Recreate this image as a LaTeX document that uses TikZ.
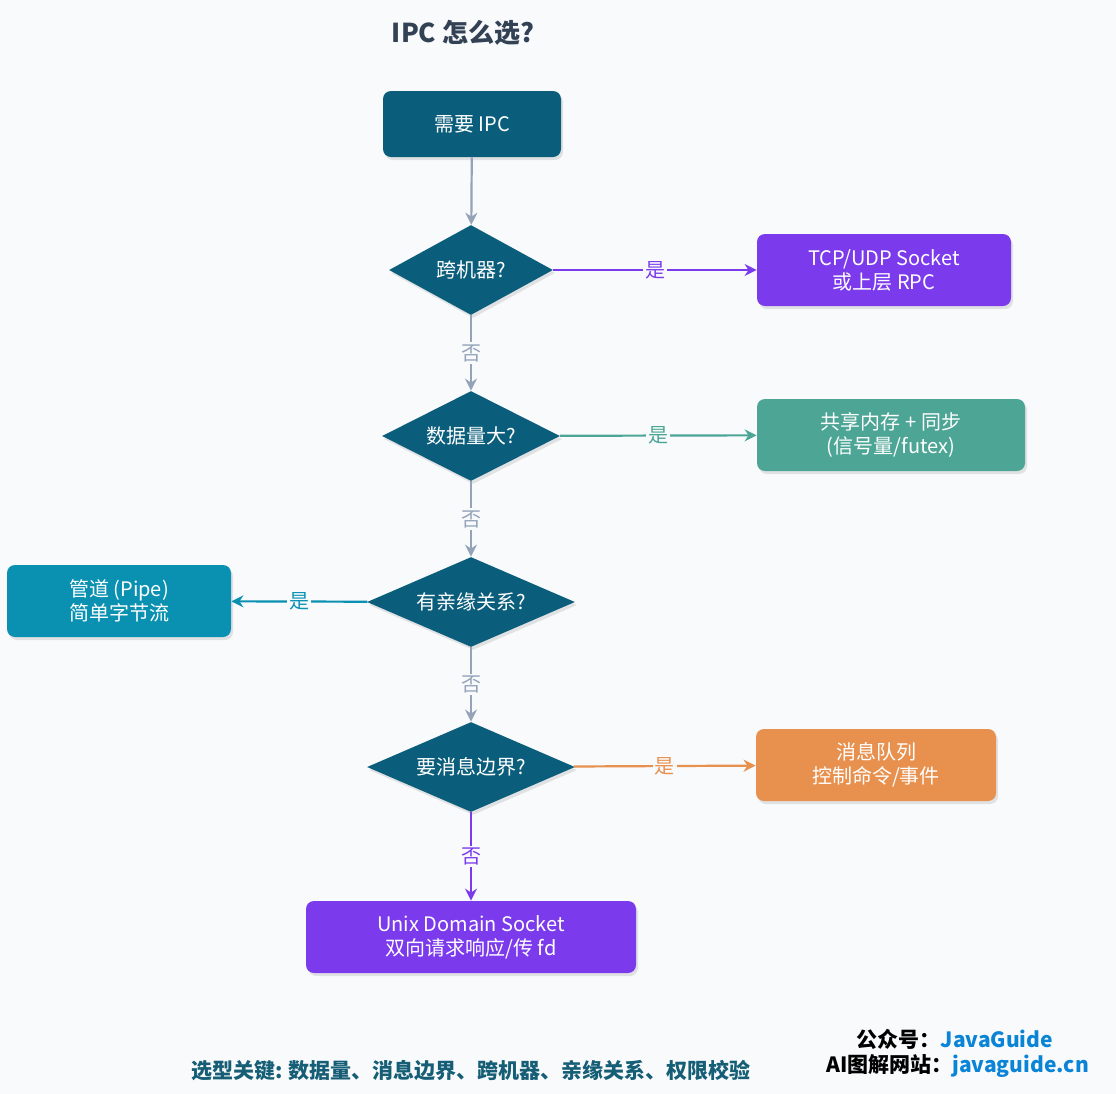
\documentclass[tikz,border=0pt]{standalone}
\usepackage{fontspec}
\setmainfont{Noto Sans CJK SC}
\usetikzlibrary{shapes.geometric,arrows.meta,shadows}
\definecolor{bg}{HTML}{F8FAFC}
\definecolor{dteal}{HTML}{0B5E7B}
\definecolor{purp}{HTML}{7C3AED}
\definecolor{grn}{HTML}{4DA595}
\definecolor{pipe}{HTML}{0A91B1}
\definecolor{orng}{HTML}{E8914F}
\definecolor{edge}{HTML}{94A3B8}
\definecolor{ttl}{HTML}{334155}
\definecolor{keyc}{HTML}{155E75}
\definecolor{blu}{HTML}{0A84D6}
\begin{document}
\begin{tikzpicture}[x=0.5pt,y=-0.5pt,
 box/.style={draw=none,rounded corners=4pt,text=white,font=\fontsize{10}{12}\selectfont,align=center,inner sep=0pt,drop shadow={opacity=0.2,shadow xshift=1pt,shadow yshift=-1.5pt}},
 dia/.style={diamond,fill=dteal,text=white,font=\fontsize{10}{12}\selectfont,inner sep=0pt,aspect=1.8,drop shadow={opacity=0.2,shadow xshift=1pt,shadow yshift=-1.5pt}},
 ar/.style={-{Stealth[length=6pt,width=6pt]},line width=1.1pt,draw=edge},
 lab/.style={fill=bg,font=\fontsize{10}{12}\selectfont,inner sep=1pt}]
\fill[bg] (0,0) rectangle (1116,1094);
\useasboundingbox (0,0) rectangle (1116,1094);
\node[font=\bfseries\fontsize{13}{15}\selectfont,text=ttl] (t) at (463,33) {IPC 怎么选?};
\node[box,fill=dteal,minimum width=89pt,minimum height=33pt] (s) at (472,124) {需要 IPC};
\node[dia,minimum width=82pt,minimum height=45pt] (d1) at (471,270) {跨机器?};
\node[dia,minimum width=89pt,minimum height=45pt] (d2) at (471,436) {数据量大?};
\node[dia,minimum width=104pt,minimum height=45pt] (d3) at (471,602) {有亲缘关系?};
\node[dia,minimum width=104pt,minimum height=45pt] (d4) at (471,767) {要消息边界?};
\node[box,fill=purp,minimum width=127pt,minimum height=36pt] (b1) at (884,270) {TCP/UDP Socket\\或上层 RPC};
\node[box,fill=grn,minimum width=134pt,minimum height=36pt] (b2) at (891,435) {共享内存 + 同步\\(信号量/futex)};
\node[box,fill=pipe,minimum width=112pt,minimum height=36pt] (b3) at (119,601) {管道 (Pipe)\\简单字节流};
\node[box,fill=orng,minimum width=120pt,minimum height=36pt] (b4) at (876,765) {消息队列\\控制命令/事件};
\node[box,fill=purp,minimum width=165pt,minimum height=36pt] (b5) at (471,937) {Unix Domain Socket\\双向请求响应/传 fd};
\draw[ar] (s) -- (d1);
\draw[ar] (d1) -- node[lab,text=edge]{否} (d2);
\draw[ar] (d2) -- node[lab,text=edge]{否} (d3);
\draw[ar] (d3) -- node[lab,text=edge]{否} (d4);
\draw[ar,draw=purp] (d4) -- node[lab,text=purp]{否} (b5);
\draw[ar,draw=purp] (d1) -- node[lab,text=purp]{是} (b1);
\draw[ar,draw=grn] (d2) -- node[lab,text=grn]{是} (b2);
\draw[ar,draw=pipe] (d3) -- node[lab,text=pipe]{是} (b3);
\draw[ar,draw=orng] (d4) -- node[lab,text=orng]{是} (b4);
\node[font=\bfseries\fontsize{10.5}{12}\selectfont,text=keyc] (k) at (471,1071) {选型关键: 数据量、消息边界、跨机器、亲缘关系、权限校验};
\node[font=\bfseries\fontsize{10.5}{12}\selectfont,anchor=east] (w1) at (1060,1039) {公众号：\textcolor{blu}{JavaGuide}};
\node[font=\bfseries\fontsize{10.5}{12}\selectfont,anchor=east] (w2) at (1096,1066) {AI图解网站：\textcolor{blu}{javaguide.cn}};
\end{tikzpicture}
\end{document}
